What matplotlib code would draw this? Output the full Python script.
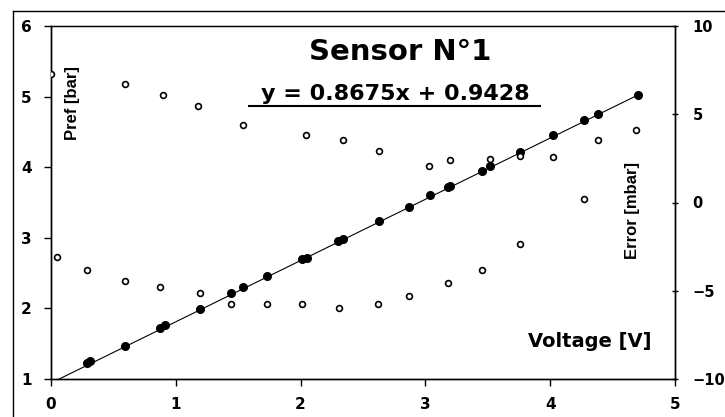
"""Sensor N°1 calibration: reference pressure and error versus voltage."""

import matplotlib
matplotlib.use("Agg")
import matplotlib.pyplot as plt
from matplotlib.lines import Line2D
import numpy as np

plt.rcParams["font.family"] = ["DejaVu Sans"]
plt.rcParams["font.weight"] = "bold"

# Pref [bar] vs voltage (filled markers, left axis)
volt_ref = [0.29, 0.31, 0.59, 0.87, 0.91, 1.19, 1.44, 1.54, 1.73, 2.01, 2.05,
            2.30, 2.34, 2.63, 2.87, 3.04, 3.18, 3.20, 3.45, 3.52, 3.76, 4.02,
            4.27, 4.38, 4.70]
pref = [1.22, 1.25, 1.47, 1.72, 1.76, 1.99, 2.22, 2.30, 2.46, 2.70, 2.72,
        2.96, 2.98, 3.24, 3.44, 3.60, 3.72, 3.74, 3.95, 4.02, 4.21, 4.45,
        4.67, 4.76, 5.02]

# Error [mbar] vs voltage (open markers, right axis)
volt_err = [0.00, 0.59, 0.90, 1.18, 1.54, 2.04, 2.34, 2.63, 3.03, 3.20, 3.52,
            3.76, 4.02, 4.38, 4.69,
            0.05, 0.29, 0.59, 0.87, 1.19, 1.44, 1.73, 2.01, 2.31, 2.62, 2.87,
            3.18, 3.45, 3.76, 4.27]
error = [7.28, 6.70, 6.07, 5.47, 4.41, 3.81, 3.54, 2.94, 2.07, 2.41, 2.48,
         2.65, 2.60, 3.54, 4.11,
         -3.10, -3.82, -4.43, -4.77, -5.11, -5.73, -5.73, -5.73, -6.00, -5.73,
         -5.30, -4.58, -3.80, -2.33, 0.20]

slope = 0.8675
intercept = 0.9428
x_ticks = [0, 1, 2, 3, 4, 5]
y_ticks = [1, 2, 3, 4, 5, 6]
err_ticks = [-10, -5, 0, 5, 10]

fig = plt.figure(figsize=(7.25, 4.17), dpi=100)
ax = fig.add_axes([51 / 725, 38 / 417, 624 / 725, 353 / 417])
ax2 = ax.twinx()

fit_x = np.array([0.0, max(volt_ref)])
ax.plot(fit_x, slope * fit_x + intercept, color="black", linewidth=0.8, zorder=2)
ax.plot(volt_ref, pref, "o", color="black", markersize=5.5, zorder=3)
ax2.plot(volt_err, error, "o", markerfacecolor="white", markeredgecolor="black",
         markeredgewidth=1.2, markersize=4.2, zorder=3)

ax.set_xlim(0, 5)
ax.set_ylim(1, 6)
ax2.set_ylim(-10, 10)
ax.set_xticks(x_ticks)
ax.set_yticks(y_ticks)
ax2.set_yticks(err_ticks)

ax.tick_params(axis="both", labelsize=11, length=5, width=1, direction="out")
ax.tick_params(axis="y", pad=9)
ax.tick_params(axis="x", pad=8)
ax2.tick_params(axis="y", labelsize=10.5, length=5, width=1, direction="inout", pad=10)
for label in ax.get_xticklabels() + ax.get_yticklabels() + ax2.get_yticklabels():
    label.set_fontweight("bold")

for a in (ax, ax2):
    for spine in a.spines.values():
        spine.set_linewidth(1)
ax.spines["top"].set_linewidth(0.8)

ax.text(0.56, 0.927, "Sensor N°1", transform=ax.transAxes, ha="center", va="center",
        fontsize=21, fontweight="bold")
ax.text(0.551, 0.806, f"y = {slope}x + {intercept}", transform=ax.transAxes,
        ha="center", va="center", fontsize=16, fontweight="bold")
ax.plot([198 / 624, 489 / 624], [0.774, 0.774], transform=ax.transAxes,
        color="black", linewidth=1.5, clip_on=False)

ax.text(21 / 624, 0.782, "Pref [bar]", transform=ax.transAxes, rotation=90,
        ha="center", va="center", fontsize=12, fontweight="bold",
        family="Liberation Sans")
ax.text(581 / 624, 0.476, "Error [mbar]", transform=ax.transAxes, rotation=90,
        ha="center", va="center", fontsize=12, fontweight="bold",
        family="Liberation Sans")
ax.text(0.864, 0.105, "Voltage [V]", transform=ax.transAxes, ha="center",
        va="center", fontsize=14, fontweight="bold")

# chart area frame (left and top edges visible)
fx = 13.5 / 725
fy = 1 - 11 / 417
fig.add_artist(Line2D([fx, fx], [0, fy], color="black", linewidth=1))
fig.add_artist(Line2D([fx, 1], [fy, fy], color="black", linewidth=1))

fig.savefig("out.png", dpi=100)
